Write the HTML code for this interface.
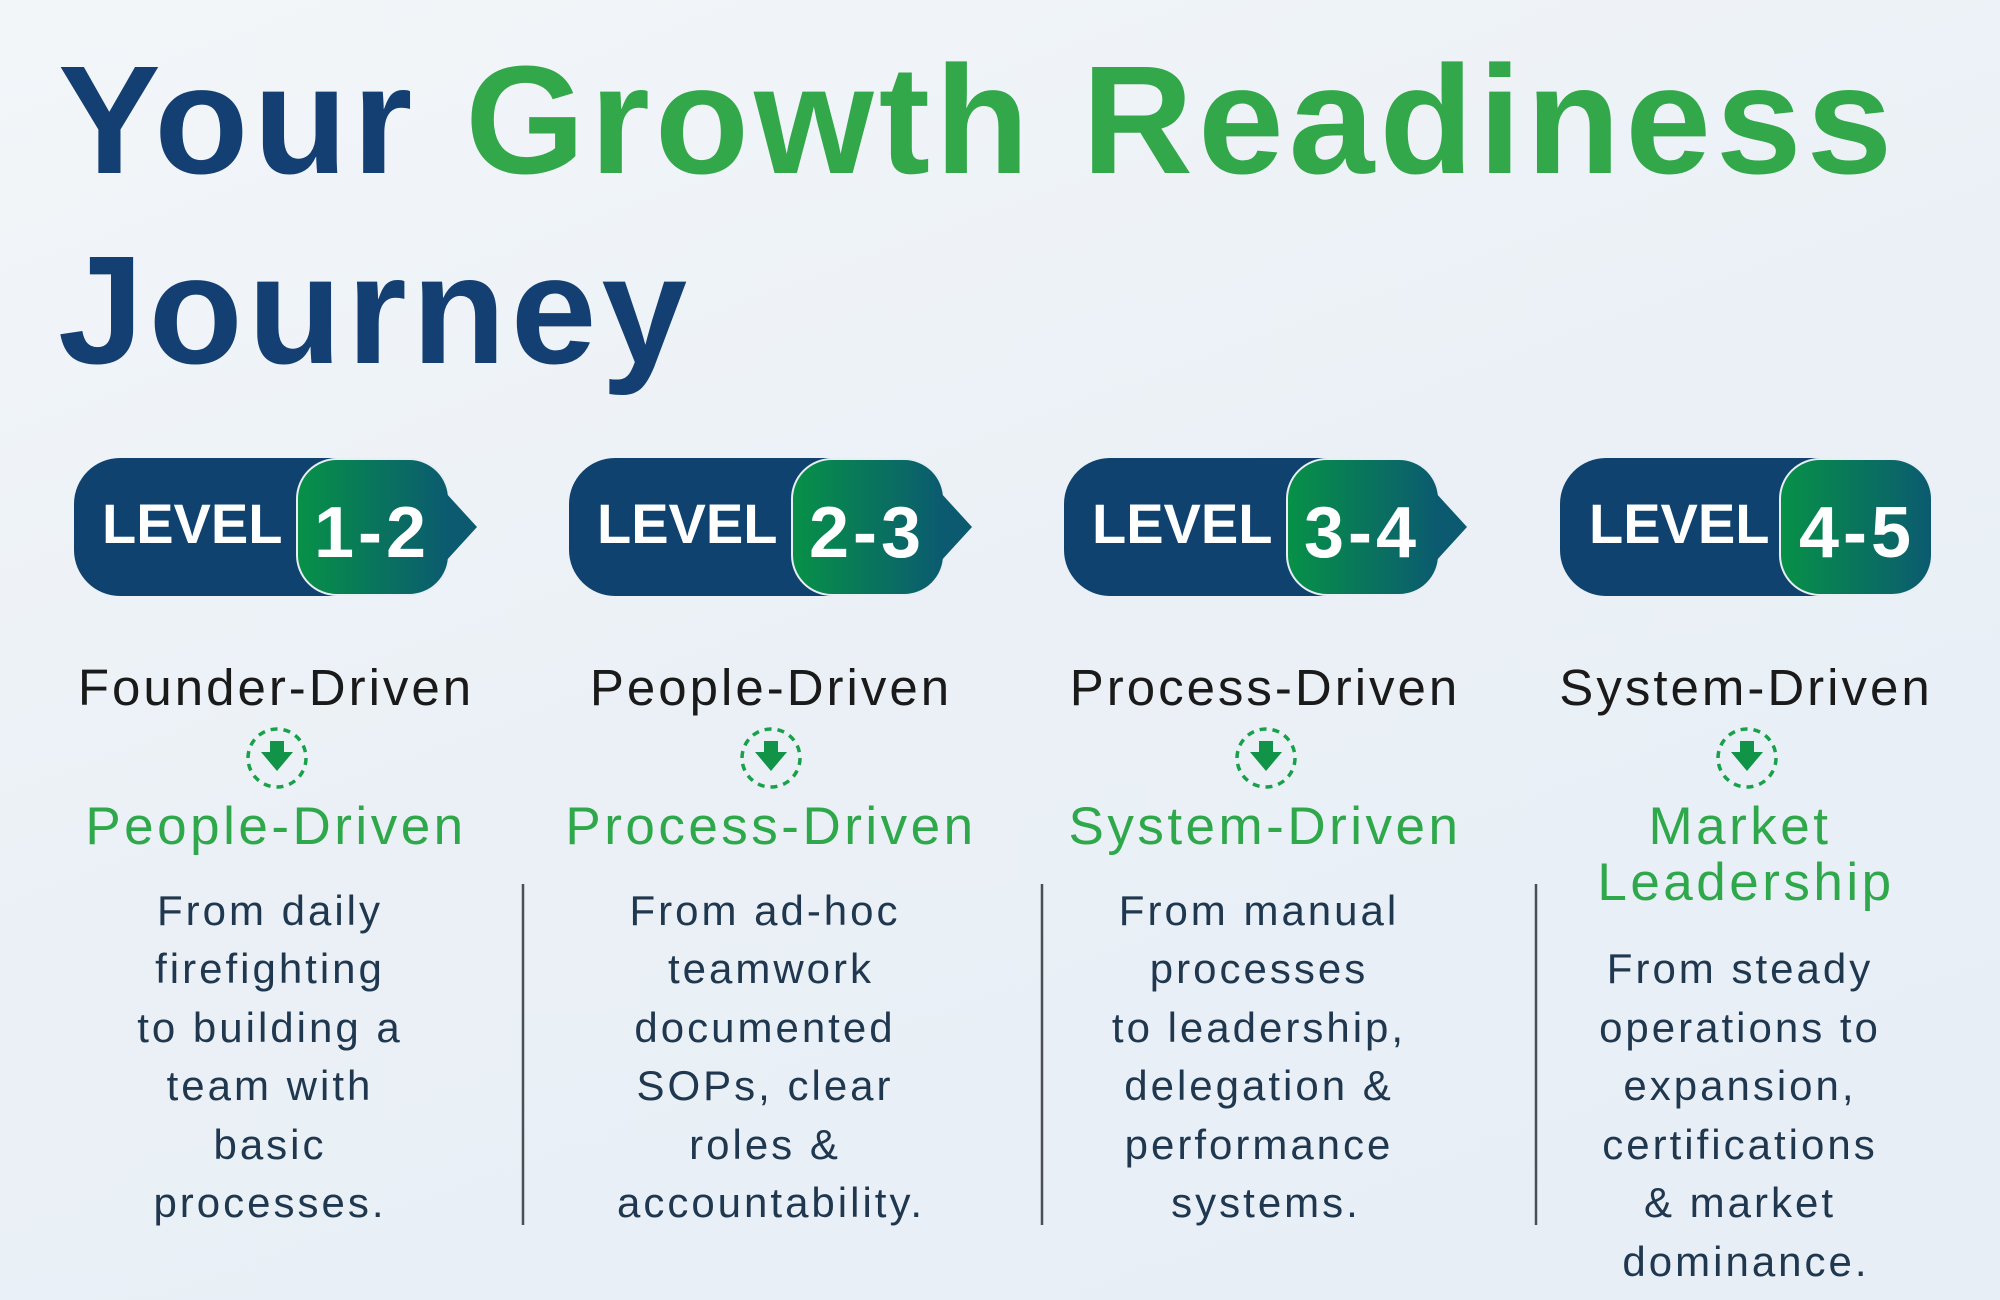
<!DOCTYPE html>
<html><head><meta charset="utf-8"><style>
html,body{margin:0;padding:0;width:2000px;height:1300px;overflow:hidden}
body{background:linear-gradient(160deg,#f3f6f9 0%,#eaf0f6 50%,#e7eef6 100%)}
svg{display:block}
.t{font-family:"Liberation Sans",sans-serif;font-weight:bold}
.lv{font-family:"Liberation Sans",sans-serif;font-weight:bold;fill:#fff}
.h{font-family:"Liberation Sans",sans-serif;font-size:51px;fill:#1a1a1a;letter-spacing:3px}
.g{font-family:"Liberation Sans",sans-serif;font-size:53px;fill:#2ea84a;letter-spacing:3.5px}
.b{font-family:"Liberation Sans",sans-serif;font-size:42px;fill:#20384f;letter-spacing:3px}
</style></head><body>
<svg width="2000" height="1300" viewBox="0 0 2000 1300">
<defs>
<linearGradient id="gr" x1="0" x2="1" y1="0" y2="0">
<stop offset="0" stop-color="#079147"/><stop offset="1" stop-color="#0b5a70"/>
</linearGradient>
<g id="dn">
<circle r="29" fill="none" stroke="#19a04a" stroke-width="3.5" stroke-dasharray="7 6"/>
<path d="M-7,-17 h14 v11 h9 l-16,19 l-16,-19 h9 z" fill="#119447"/>
</g>
</defs>
<text class="t" x="58" y="173" font-size="154" fill="#143f72" letter-spacing="5">Your <tspan fill="#33a84a">Growth Readiness</tspan></text>
<text class="t" x="58" y="363" font-size="154" fill="#143f72" letter-spacing="5">Journey</text>

<g>
<rect x="74" y="458" width="375" height="138" rx="46" fill="#10426f"/>
<rect x="297" y="459" width="152" height="136" rx="40" fill="url(#gr)" stroke="#e8eef4" stroke-width="2"/>
<path d="M445,492 L477,527 L445,562 Z" fill="#0b5a70"/>
<text class="lv" x="102" y="543" font-size="56">LEVEL</text>
<text class="lv" x="372" y="557" font-size="72" text-anchor="middle" letter-spacing="4">1-2</text>
</g>
<g transform="translate(495,0)">
<rect x="74" y="458" width="375" height="138" rx="46" fill="#10426f"/>
<rect x="297" y="459" width="152" height="136" rx="40" fill="url(#gr)" stroke="#e8eef4" stroke-width="2"/>
<path d="M445,492 L477,527 L445,562 Z" fill="#0b5a70"/>
<text class="lv" x="102" y="543" font-size="56">LEVEL</text>
<text class="lv" x="372" y="557" font-size="72" text-anchor="middle" letter-spacing="4">2-3</text>
</g>
<g transform="translate(990,0)">
<rect x="74" y="458" width="375" height="138" rx="46" fill="#10426f"/>
<rect x="297" y="459" width="152" height="136" rx="40" fill="url(#gr)" stroke="#e8eef4" stroke-width="2"/>
<path d="M445,492 L477,527 L445,562 Z" fill="#0b5a70"/>
<text class="lv" x="102" y="543" font-size="56">LEVEL</text>
<text class="lv" x="372" y="557" font-size="72" text-anchor="middle" letter-spacing="4">3-4</text>
</g>
<g>
<rect x="1560" y="458" width="372" height="138" rx="46" fill="#10426f"/>
<rect x="1780" y="459" width="152" height="136" rx="40" fill="url(#gr)" stroke="#e8eef4" stroke-width="2"/>
<text class="lv" x="1589" y="543" font-size="56">LEVEL</text>
<text class="lv" x="1857" y="557" font-size="72" text-anchor="middle" letter-spacing="4">4-5</text>
</g>

<g stroke="#4a4f55" stroke-width="2.5">
<line x1="523" y1="884" x2="523" y2="1225"/>
<line x1="1042" y1="884" x2="1042" y2="1225"/>
<line x1="1536" y1="884" x2="1536" y2="1225"/>
</g>

<text class="h" x="276" y="705" text-anchor="middle">Founder-Driven</text>
<use href="#dn" x="277" y="758"/>
<text class="g" x="276" y="844" text-anchor="middle">People-Driven</text>
<g class="b" text-anchor="middle">
<text x="270" y="925">From daily</text>
<text x="270" y="983">firefighting</text>
<text x="270" y="1042">to building a</text>
<text x="270" y="1100">team with</text>
<text x="270" y="1159">basic</text>
<text x="270" y="1217">processes.</text>
</g>

<text class="h" x="771" y="705" text-anchor="middle">People-Driven</text>
<use href="#dn" x="771" y="758"/>
<text class="g" x="771" y="844" text-anchor="middle">Process-Driven</text>
<g class="b" text-anchor="middle">
<text x="765" y="925">From ad-hoc</text>
<text x="771" y="983">teamwork</text>
<text x="765" y="1042">documented</text>
<text x="765" y="1100">SOPs, clear</text>
<text x="765" y="1159">roles &amp;</text>
<text x="771" y="1217">accountability.</text>
</g>

<text class="h" x="1265" y="705" text-anchor="middle">Process-Driven</text>
<use href="#dn" x="1266" y="758"/>
<text class="g" x="1265" y="844" text-anchor="middle">System-Driven</text>
<g class="b" text-anchor="middle">
<text x="1259" y="925">From manual</text>
<text x="1259" y="983">processes</text>
<text x="1259" y="1042">to leadership,</text>
<text x="1259" y="1100">delegation &amp;</text>
<text x="1259" y="1159">performance</text>
<text x="1266" y="1217">systems.</text>
</g>

<text class="h" x="1746" y="705" text-anchor="middle">System-Driven</text>
<use href="#dn" x="1747" y="758"/>
<text class="g" x="1740" y="844" text-anchor="middle">Market</text>
<text class="g" x="1746" y="900" text-anchor="middle">Leadership</text>
<g class="b" text-anchor="middle">
<text x="1740" y="983">From steady</text>
<text x="1740" y="1042">operations to</text>
<text x="1740" y="1100">expansion,</text>
<text x="1740" y="1159">certifications</text>
<text x="1740" y="1217">&amp; market</text>
<text x="1746" y="1276">dominance.</text>
</g>
</svg>
</body></html>
